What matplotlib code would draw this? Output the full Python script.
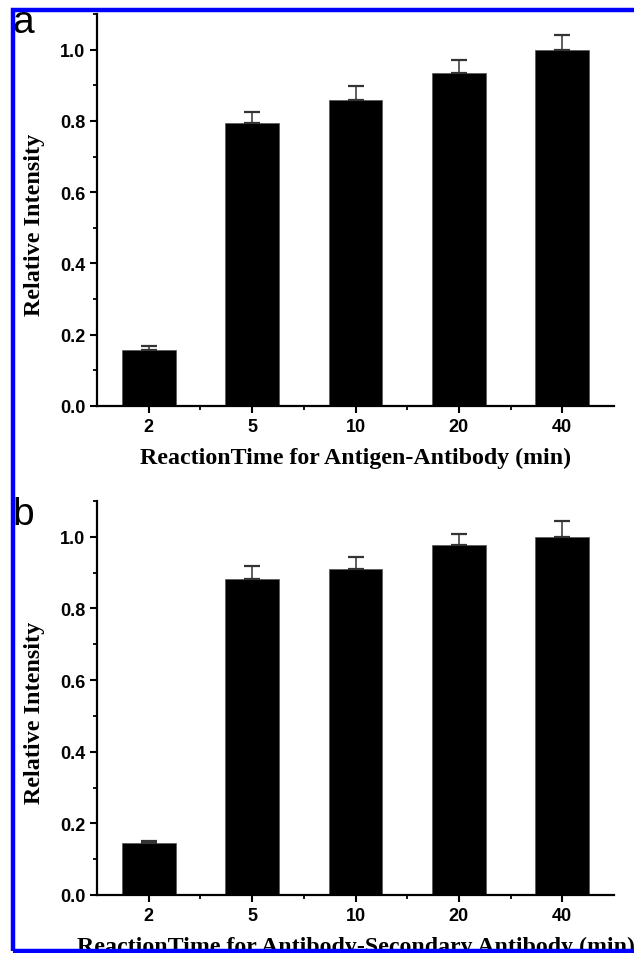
import matplotlib
matplotlib.use('Agg')
import matplotlib.pyplot as plt
from matplotlib.ticker import MultipleLocator, FixedLocator
from matplotlib.patches import Rectangle

# data
times = ['2', '5', '10', '20', '40']
intensity_a = [0.158, 0.793, 0.858, 0.935, 1.0]
error_a = [0.010, 0.033, 0.039, 0.037, 0.040]
intensity_b = [0.144, 0.883, 0.911, 0.976, 1.0]
error_b = [0.006, 0.035, 0.034, 0.033, 0.043]

xlabel_a = 'ReactionTime for Antigen-Antibody (min)'
xlabel_b = 'ReactionTime for Antibody-Secondary Antibody (min)'

W, H = 634, 954
fig = plt.figure(figsize=(W / 100, H / 100), dpi=100)

serif = 'Liberation Serif'
sans = 'Liberation Sans'


def draw_panel(rect, values, errors, xlabel):
    ax = fig.add_axes(rect)
    x = list(range(len(times)))
    ax.bar(x, values, width=0.52, color='black', edgecolor='#555555', linewidth=0.5,
           yerr=[[0] * len(errors), errors], capsize=6,
           error_kw=dict(ecolor='#333333', elinewidth=1.1, capthick=1.6))
    ax.set_xlim(-0.5, 4.5)
    ax.set_ylim(0, 1.1)
    ax.set_xticks(x)
    ax.set_xticklabels(times, fontname=sans, fontsize=13, fontweight='bold')
    ax.xaxis.set_minor_locator(FixedLocator([i + 0.5 for i in x[:-1]]))
    ax.yaxis.set_minor_locator(MultipleLocator(0.1))
    ax.set_yticks([0, 0.2, 0.4, 0.6, 0.8, 1.0])
    ax.set_yticklabels(['0.0', '0.2', '0.4', '0.6', '0.8', '1.0'], fontname=sans,
                       fontsize=13, fontweight='bold')
    for s in ['top', 'right']:
        ax.spines[s].set_visible(False)
    for s in ['left', 'bottom']:
        ax.spines[s].set_linewidth(1.6)
    ax.tick_params(which='major', direction='out', length=5, width=1.5, pad=3.5)
    ax.tick_params(which='minor', direction='out', length=3, width=1.3)
    ax.set_ylabel('Relative Intensity', fontname=serif, fontweight='bold', fontsize=17.4)
    ax.yaxis.set_label_coords(-0.1, 0.464)
    ax.set_xlabel(xlabel, fontname=serif, fontweight='bold', fontsize=17.2)
    ax.xaxis.set_label_coords(0.5, -0.103)
    return ax


ax_a = draw_panel([97 / W, 1 - 407 / H, 517 / W, 392 / H], intensity_a, error_a, xlabel_a)
ax_b = draw_panel([97 / W, 1 - 896 / H, 517 / W, 394 / H], intensity_b, error_b, xlabel_b)

fig.text(12 / W, 1 - 33 / H, 'a', fontname=sans, fontsize=28, ha='left', va='baseline')
fig.text(12 / W, 1 - 525 / H, 'b', fontname=sans, fontsize=28, ha='left', va='baseline')

# blue frame around the figure (right side runs off the image)
fig.add_artist(Rectangle((13 / W, 1 - 952 / H), 1.2, (952 - 10.5) / H,
                         transform=fig.transFigure, fill=False,
                         edgecolor='#0000ff', linewidth=3.2, zorder=10))

fig.savefig('out.png', dpi=100)
